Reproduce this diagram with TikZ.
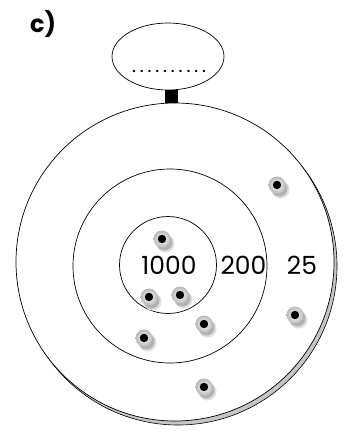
\documentclass[tikz,border=0pt]{standalone}
\usepackage{fontspec}
\setmainfont{Poppins}
\usetikzlibrary{positioning,calc,shadings,shapes.geometric}

\begin{document}
\begin{tikzpicture}[
  x=1pt, y=-1pt,
  ring/.style={draw, line width=0.7pt},
  score/.style={font=\fontsize{25}{25}\selectfont, inner sep=0pt},
  hole/.style={fill=black},
]
\useasboundingbox (0,0) rectangle (348,434);

% label
\node[font=\fontsize{24}{24}\selectfont\bfseries, inner sep=0pt] (lab) at (43,24) {c)};

% hanger with the dotted name field
\node[ring, ellipse, minimum width=112pt, minimum height=67pt, inner sep=0pt]
  (tag) at (168,56.5) {};
\node[inner sep=0pt, font=\large\bfseries] (dots) at (169,71)
  {\hbox to 78pt{\xleaders\hbox to 7.6pt{\hss.\hss}\hfill}};

% target: shadow, then the rings
\fill[gray!45, draw=black, line width=0.6pt] (178,266) circle (159);
\node[ring, circle, fill=white, minimum size=318pt, inner sep=0pt] (outer) at (175,262) {};
\node[ring, circle, minimum size=194pt, inner sep=0pt] (middle) at (170,266) {};
\node[ring, circle, minimum size=97pt, inner sep=0pt] (inner) at (168,265) {};

\fill[black] ($(tag.south)+(-3,0)$) rectangle ($(outer.north)+(3,0)$);

% scores
\node[score] (s1000) at (169,265) {1000};
\node[score] (s200) at (243.5,265) {200};
\node[score] (s25) at (302,265) {25};

% shots
\foreach \x/\y [count=\i] in {162/239, 149/297, 180/295, 204/324,
                              144/338, 295/315, 277/185, 204/387} {
  \fill[gray!25] (\x+3.5,\y+4.5) circle (9);
  \fill[gray!60] (\x+2.5,\y+3.5) circle (8);
  \shade[inner color=white, outer color=gray!55] (\x,\y) circle (8.5);
  \fill[hole] (\x,\y) circle (4.2) coordinate (shot\i);
}
\end{tikzpicture}
\end{document}
